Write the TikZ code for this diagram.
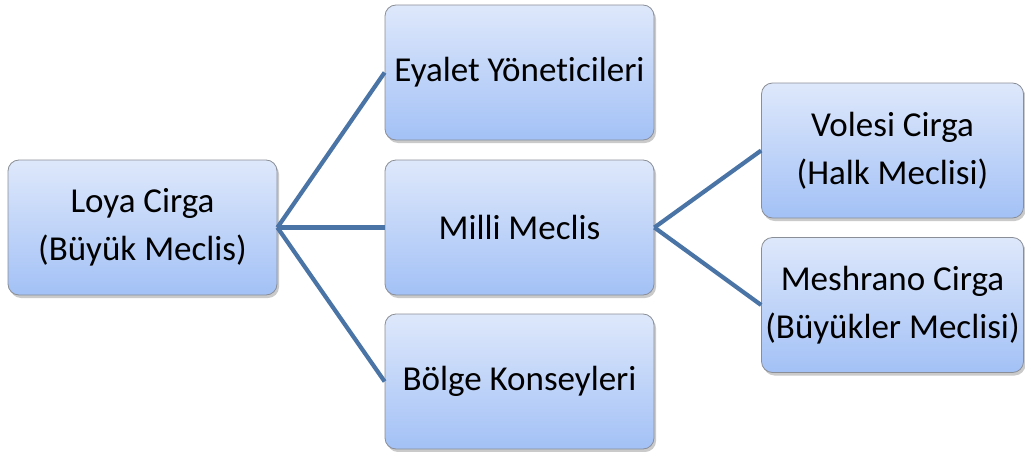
\documentclass[tikz,border=0pt]{standalone}
\usepackage{fontspec}
\setmainfont{Carlito}[Ligatures={NoCommon}]
\usetikzlibrary{shadows}
\definecolor{linkblue}{HTML}{4A74A5}
\definecolor{boxtop}{HTML}{DEE8FB}
\definecolor{boxbot}{HTML}{A3C1F6}
\definecolor{boxedge}{HTML}{8A8E96}
\tikzset{
  orgbox/.style={draw=boxedge, line width=0.8pt, rounded corners=11pt,
    top color=boxtop, bottom color=boxbot,
    minimum width=269pt, minimum height=135pt, inner sep=0pt,
    align=center, font=\fontsize{35}{48}\selectfont,
    drop shadow={shadow xshift=2pt, shadow yshift=-3pt, opacity=0.35, fill=black!60}},
  link/.style={draw=linkblue, line width=4.2pt}
}
\begin{document}
\begin{tikzpicture}[x=1pt,y=-1pt]
\useasboundingbox (0,0) rectangle (1025,452);
\node[orgbox] (loya) at (142.5,227.5) {Loya Cirga\\(Büyük Meclis)};
\node[orgbox] (eyalet) at (519.5,72.5) {Eyalet Yöneticileri};
\node[orgbox] (milli) at (519.5,227.5) {Milli Meclis};
\node[orgbox] (bolge) at (519.5,381.5) {Bölge Konseyleri};
\node[orgbox, minimum width=262pt] (volesi) at (892.5,150.5) {Volesi Cirga\\(Halk Meclisi)};
\node[orgbox, minimum width=262pt] (meshrano) at (892.5,305) {Meshrano Cirga\\(Büyükler Meclisi)};
\draw[link] (loya.east) -- (eyalet.west);
\draw[link] (loya.east) -- (milli.west);
\draw[link] (loya.east) -- (bolge.west);
\draw[link] (milli.east) -- (volesi.west);
\draw[link] (milli.east) -- (meshrano.west);
\end{tikzpicture}
\end{document}
